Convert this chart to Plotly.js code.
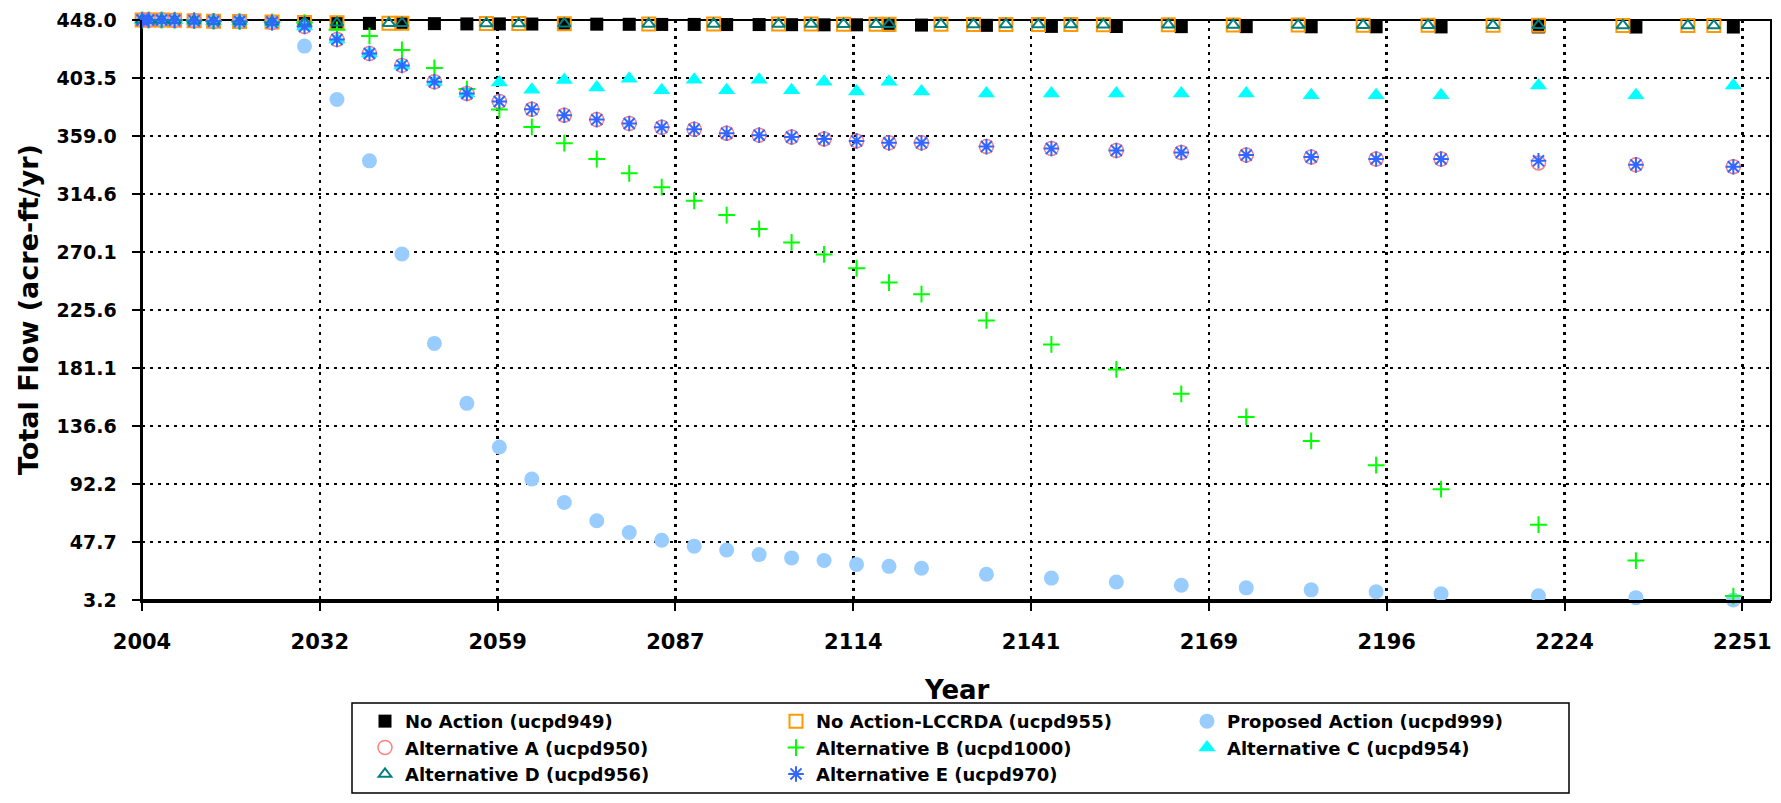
<!DOCTYPE html>
<html>
<head>
<meta charset="utf-8">
<script src="https://cdn.plot.ly/plotly-3.0.1.min.js"></script>
<style>
  html, body { margin: 0; padding: 0; background: #fff; }
  #chart { width: 1781px; height: 803px; }
</style>
</head>
<body>
<div id="chart"></div>
<script>
// output years shared by most scenarios
var years = [2005, 2006, 2008, 2010, 2013, 2016, 2020, 2025, 2030, 2035, 2040, 2045, 2050,
  2055, 2060, 2065, 2070, 2075, 2080, 2085, 2090, 2095, 2100, 2105, 2110, 2115, 2120,
  2125, 2135, 2145, 2155, 2165, 2175, 2185, 2195, 2205, 2220, 2235, 2250];

// LCCRDA and Alternative D were written out on other years
var lccrdaYears = [2005, 2006, 2008, 2010, 2013, 2016, 2020, 2025, 2030, 2035, 2043, 2045,
  2058, 2063, 2070, 2083, 2093, 2103, 2108, 2113, 2118, 2120, 2128, 2133, 2138, 2143,
  2148, 2153, 2163, 2173, 2183, 2193, 2203, 2213, 2220, 2233, 2243, 2247];

var noAction = [448.0, 448.0, 448.0, 447.8, 447.5, 447.0, 446.8, 446.5, 446.0, 445.6, 445.4,
  445.3, 445.2, 445.0, 445.0, 444.9, 444.8, 444.8, 444.7, 444.6, 444.6, 444.5, 444.5, 444.4,
  444.3, 444.3, 444.2, 444.1, 443.9, 443.1, 443.0, 442.9, 442.9, 442.8, 442.8, 442.7, 442.7,
  442.6, 442.6];

var noActionLccrda = [448.0, 448.0, 448.0, 447.8, 447.5, 447.0, 446.8, 446.5, 446.0, 445.8,
  445.6, 445.5, 445.4, 445.3, 445.2, 445.0, 445.0, 444.9, 444.9, 444.8, 444.8, 444.8, 444.7,
  444.6, 444.6, 444.5, 444.5, 444.4, 444.3, 444.2, 444.1, 444.0, 444.0, 443.9, 443.9, 443.8,
  443.8, 443.7];

var proposed = [448.0, 448.0, 448.0, 447.8, 447.5, 447.0, 446.8, 446.0, 428.0, 387.0, 340.0,
  268.5, 200.0, 154.0, 120.5, 96.0, 78.0, 64.0, 55.0, 49.0, 44.5, 41.5, 38.0, 35.5, 33.5,
  30.5, 29.0, 27.5, 23.0, 20.0, 17.0, 14.5, 12.5, 11.0, 9.5, 8.0, 6.5, 5.0, 3.2];

var altA = [448.0, 448.0, 448.0, 447.8, 447.5, 447.0, 446.8, 446.0, 443.0, 433.0, 422.3,
  413.2, 400.6, 391.7, 385.5, 379.5, 375.0, 371.6, 368.6, 365.7, 364.2, 361.2, 359.7, 358.3,
  356.8, 355.3, 353.8, 353.8, 350.9, 349.4, 347.9, 346.4, 344.4, 342.9, 341.4, 341.4, 338.4,
  336.9, 335.5];

var altB = [448.0, 448.0, 448.0, 447.8, 447.5, 447.0, 446.8, 446.5, 446.0, 440.5, 435.8,
  425.0, 411.2, 395.0, 379.3, 366.0, 353.5, 341.4, 330.4, 319.8, 309.4, 298.4, 287.8, 277.4,
  268.2, 257.6, 246.6, 237.7, 217.6, 199.2, 180.0, 161.3, 143.6, 125.2, 106.6, 88.2, 61.0,
  33.4, 6.2];

var altC = [448.0, 448.0, 448.0, 447.8, 447.5, 447.0, 446.8, 446.0, 443.0, 433.0, 422.3,
  413.2, 400.6, 391.7, 400.0, 394.5, 402.0, 396.2, 403.0, 394.1, 402.1, 394.1, 402.1, 394.1,
  400.6, 393.2, 400.6, 393.2, 391.7, 391.7, 391.7, 391.7, 391.7, 390.3, 390.3, 390.3, 397.7,
  390.3, 397.7];

var altD = [448.0, 448.0, 448.0, 447.8, 447.5, 447.0, 446.8, 446.5, 446.0, 445.8, 445.6,
  445.5, 445.4, 445.3, 445.2, 445.0, 445.0, 444.9, 444.9, 444.8, 444.8, 444.8, 444.7, 444.6,
  444.6, 444.5, 444.5, 444.4, 444.3, 444.2, 444.1, 444.0, 444.0, 443.9, 443.9, 443.8, 443.8,
  443.7];

var altE = [448.0, 448.0, 448.0, 447.8, 447.5, 447.0, 446.8, 446.0, 443.0, 433.0, 422.3,
  413.2, 400.6, 391.7, 385.5, 379.5, 375.0, 371.6, 368.6, 365.7, 364.2, 361.2, 359.7, 358.3,
  356.8, 355.3, 353.8, 353.8, 350.9, 349.4, 347.9, 346.4, 344.4, 342.9, 341.4, 341.4, 340.0,
  336.9, 335.5];

var xTickLabels = ['2004', '2032', '2059', '2087', '2114', '2141', '2169', '2196', '2224', '2251'];
var yTickLabels = ['3.2', '47.7', '92.2', '136.6', '181.1', '225.6', '270.1', '314.6', '359.0', '403.5', '448.0'];

// excel date axis: first tick late 2004, major unit 10000 days
var X_START = 2004.98;
var X_STEP = 10000 / 365.25;
var X_END = 2255.8;

var M = { l: 142, r: 10, t: 20, b: 197 };
var W = 1781, H = 803;
var plotW = W - M.l - M.r;
var plotH = H - M.t - M.b;
function paperX(px) { return (px - M.l) / plotW; }
function paperY(py) { return (H - M.b - py) / plotH; }

var bold = function (size) { return { family: 'DejaVu Sans', size: size, color: '#000', weight: 700 }; };

function series(name, x, y, marker) {
  return { type: 'scatter', mode: 'markers', name: name, x: x, y: y,
    marker: marker, cliponaxis: false, hoverinfo: 'skip' };
}

var data = [
  series('No Action (ucpd949)', years, noAction,
    { symbol: 'square', size: 13, color: '#000000' }),
  series('No Action-LCCRDA (ucpd955)', lccrdaYears, noActionLccrda,
    { symbol: 'square-open', size: 13, color: '#FF9900', line: { width: 2 } }),
  series('Proposed Action (ucpd999)', years, proposed,
    { symbol: 'circle', size: 15, color: '#99CCFF' }),
  series('Alternative A (ucpd950)', years, altA,
    { symbol: 'circle-open', size: 14, color: '#FF8080', line: { width: 1.5 } }),
  series('Alternative B (ucpd1000)', years, altB,
    { symbol: 'cross-thin-open', size: 12, color: '#00FF00', line: { width: 2 } }),
  series('Alternative C (ucpd954)', years, altC,
    { symbol: 'triangle-up', size: 15, color: '#00FFFF' }),
  series('Alternative D (ucpd956)', lccrdaYears, altD,
    { symbol: 'triangle-up-open', size: 11, color: '#008080', line: { width: 2 } }),
  series('Alternative E (ucpd970)', years, altE,
    { symbol: 'asterisk-open', size: 13, color: '#3366FF', line: { width: 2 } })
];

var axisBase = {
  showgrid: true,
  gridcolor: '#000',
  gridwidth: 2.5,
  griddash: '3px,5px',
  showline: true,
  linecolor: '#000',
  linewidth: 2.5,
  ticks: 'outside',
  ticklen: 8,
  tickwidth: 2,
  tickcolor: '#000',
  zeroline: false,
  fixedrange: true,
  tickmode: 'array'
};

var layout = {
  width: W,
  height: H,
  autosize: false,
  margin: M,
  paper_bgcolor: '#ffffff',
  plot_bgcolor: 'rgba(0,0,0,0)',
  font: bold(18),
  showlegend: true,
  xaxis: Object.assign({}, axisBase, {
    range: [X_START, X_END],
    tickvals: xTickLabels.map(function (_, i) { return X_START + i * X_STEP; }),
    ticktext: xTickLabels,
    tickfont: bold(21),
    ticklabelstandoff: 13
  }),
  yaxis: Object.assign({}, axisBase, {
    range: [3.2, 448.0],
    tickvals: yTickLabels.map(Number),
    ticktext: yTickLabels,
    tickfont: bold(19),
    ticklabelstandoff: 11
  }),
  legend: {
    orientation: 'h',
    x: paperX(365),
    xanchor: 'left',
    y: paperY(710),
    yanchor: 'top',
    entrywidth: 366,
    entrywidthmode: 'pixels',
    font: bold(18),
    bgcolor: 'rgba(0,0,0,0)',
    borderwidth: 0,
    traceorder: 'normal'
  },
  shapes: [
    // plot frame
    { type: 'rect', xref: 'paper', yref: 'paper', x0: 0, x1: 1, y0: 0, y1: 1,
      line: { color: '#000', width: 2 }, layer: 'below' },
    // legend frame
    { type: 'rect', xref: 'paper', yref: 'paper',
      x0: paperX(352), x1: paperX(1569), y0: paperY(710), y1: paperY(801),
      line: { color: '#000', width: 1.5 }, layer: 'below' }
  ],
  annotations: [
    { text: 'Total Flow (acre-ft/yr)', xref: 'paper', yref: 'paper', x: 0, y: 0.5,
      xshift: 28 - M.l, textangle: -90, xanchor: 'center', yanchor: 'middle',
      showarrow: false, font: bold(27) },
    { text: 'Year', xref: 'paper', yref: 'paper', x: 0.5, y: 0,
      yshift: -90, xanchor: 'center', yanchor: 'middle',
      showarrow: false, font: bold(26) }
  ]
};

var config = { displayModeBar: false, staticPlot: true };

Plotly.newPlot('chart', data, layout, config);
</script>
</body>
</html>
